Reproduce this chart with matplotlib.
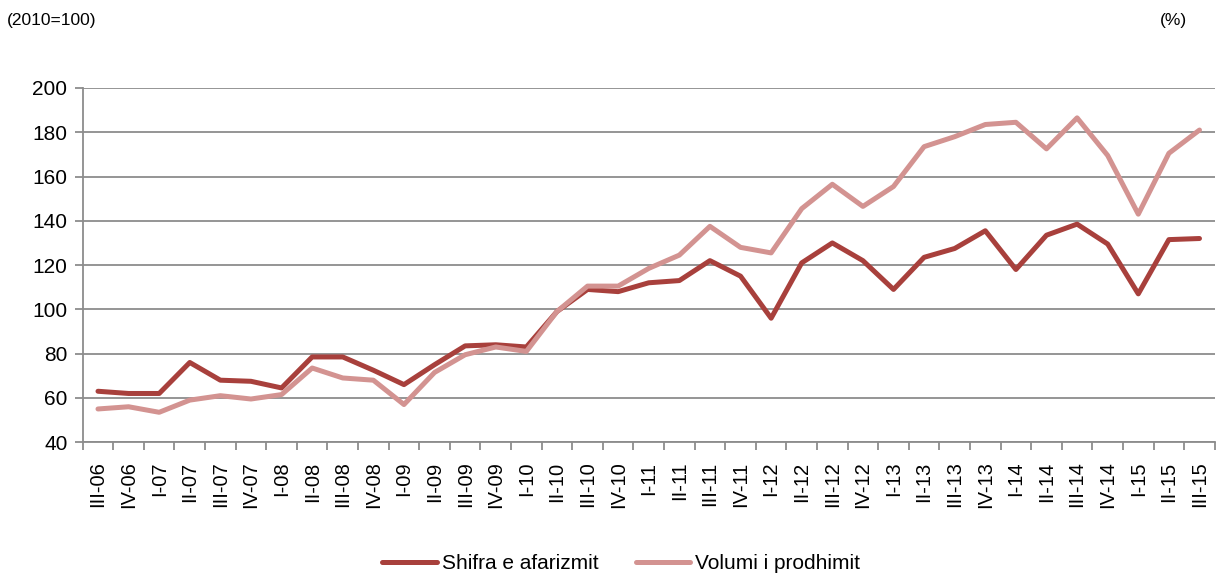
import numpy as np
import matplotlib.pyplot as plt

plt.rcParams['font.family'] = ['Liberation Sans', 'DejaVu Sans']

quarters = ['III-06', 'IV-06',
            'I-07', 'II-07', 'III-07', 'IV-07',
            'I-08', 'II-08', 'III-08', 'IV-08',
            'I-09', 'II-09', 'III-09', 'IV-09',
            'I-10', 'II-10', 'III-10', 'IV-10',
            'I-11', 'II-11', 'III-11', 'IV-11',
            'I-12', 'II-12', 'III-12', 'IV-12',
            'I-13', 'II-13', 'III-13', 'IV-13',
            'I-14', 'II-14', 'III-14', 'IV-14',
            'I-15', 'II-15', 'III-15']

shifra = [63, 62, 62, 76, 68, 67.5, 64.5, 78.5, 78.5, 72.5,
          66, 75, 83.5, 84, 83, 99, 109, 108, 112, 113,
          122, 115, 96, 121, 130, 122, 109, 123.5, 127.5, 135.5,
          118, 133.5, 138.5, 129.5, 107, 131.5, 132]

volumi = [55, 56, 53.5, 59, 61, 59.5, 61.5, 73.5, 69, 68,
          57, 71.5, 79.5, 83, 81, 99, 110.5, 110.5, 118.5, 124.5,
          137.5, 128, 125.5, 145.5, 156.5, 146.5, 155.5, 173.5, 178, 183.5,
          184.5, 172.5, 186.5, 169.5, 143, 170.5, 181]

dark = '#a8403c'
light = '#d39391'
grey = '#8c8c8c'

fig = plt.figure(figsize=(12.16, 5.75), dpi=100)
ax = fig.add_axes([0.068, 0.231, 0.931, 0.616])

x = np.arange(len(quarters))
ax.plot(x, shifra, color=dark, lw=3.6, label='Shifra e afarizmit', solid_capstyle='round')
ax.plot(x, volumi, color=light, lw=3.6, label='Volumi i prodhimit', solid_capstyle='round')

ax.set_xlim(-0.5, len(quarters) - 0.5)
ax.set_ylim(40, 200)
ax.set_yticks(np.arange(40, 201, 20))
ax.yaxis.grid(True, color=grey, lw=1.3)
ax.set_axisbelow(True)

ax.set_xticks(x)
ax.set_xticklabels(quarters, rotation=90, fontsize=14.5)
ax.set_xticks(np.arange(-0.5, len(quarters), 1), minor=True)
ax.tick_params(axis='x', which='major', length=0, pad=14)
ax.tick_params(axis='x', which='minor', length=6, color=grey, width=1.3, direction='out')
ax.tick_params(axis='y', length=6, color=grey, width=1.3, labelsize=15, pad=5)

for s in ['top', 'right']:
    ax.spines[s].set_visible(False)
for s in ['left', 'bottom']:
    ax.spines[s].set_color(grey)
    ax.spines[s].set_linewidth(1.3)

fig.text(0.006, 0.965, '(2010=100)', fontsize=12.5, va='center')
fig.text(0.976, 0.965, '(%)', fontsize=12.5, va='center', ha='right')

fig.legend(loc='center', bbox_to_anchor=(0.511, 0.02), ncol=2, frameon=False,
           fontsize=15, handlelength=2.6, columnspacing=1.8, handletextpad=0.25)

fig.savefig('out.png', dpi=100)
